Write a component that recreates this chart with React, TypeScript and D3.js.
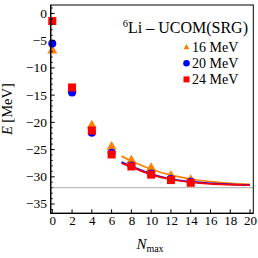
import React from 'react';
import * as d3 from 'd3';

// N_max values where the calculations were done
const nmax = [0, 2, 4, 6, 8, 10, 12, 14];

// ground-state energies [MeV]
const e16 = [-6.8, -14.0, -20.6, -24.5, -27.0, -28.4, -29.8, -30.6];
const e20 = [-5.5, -14.5, -21.9, -25.6, -27.9, -29.4, -30.4, -30.9];
const e24 = [-1.4, -13.6, -21.5, -25.9, -28.1, -29.6, -30.6, -31.1];

// extrapolation curves
const fitN = [7, 8, 10, 12, 14, 16, 18, 20];
const fit16 = [-26.2, -27.1, -28.6, -29.7, -30.4, -30.9, -31.2, -31.4];
const fit20 = [-27.3, -28.05, -29.5, -30.4, -30.9, -31.2, -31.4, -31.5];
const fit24 = [-27.5, -28.2, -29.6, -30.5, -31.0, -31.3, -31.45, -31.55];

const expE = -32.0;

const xTicks = [0, 2, 4, 6, 8, 10, 12, 14, 16, 18, 20];
const yTicks = [0, -5, -10, -15, -20, -25, -30, -35];
const legendLabels = ['16 MeV', '20 MeV', '24 MeV'];

const ORANGE = '#ff8000';
const BLUE = '#0000ff';
const RED = '#ff0000';

const W = 258;
const H = 258;
const left = 50.7, right = 253.3, top = 5, bottom = 213.3;
const serif = '"Liberation Serif", "DejaVu Serif", serif';

export default function App() {
  const x = d3.scaleLinear().domain([-0.16, 20.33]).range([left, right]);
  const y = d3.scaleLinear().domain([-36.7, 1.55]).range([bottom, top]);

  const line = d3.line<[number, number]>()
    .x(d => x(d[0]))
    .y(d => y(d[1]))
    .curve(d3.curveMonotoneX);

  const tri = d3.symbol(d3.symbolTriangle, 44)();
  const triSmall = d3.symbol(d3.symbolTriangle, 15)();

  const minorY = d3.range(-36, 2, 1).filter(v => v % 5 !== 0);

  const curves = [
    { vals: fit16, color: ORANGE },
    { vals: fit20, color: BLUE },
    { vals: fit24, color: RED },
  ];

  const legendColors = [ORANGE, BLUE, RED];

  return (
    <svg width={W} height={H} style={{ position: 'absolute', left: 0, top: 0, background: '#fff' }}
      fontFamily={serif}>
      {/* experimental value */}
      <line x1={left} x2={right} y1={y(expE)} y2={y(expE)} stroke="#bdbdbd" strokeWidth={1.2} />

      {/* extrapolation curves */}
      {curves.map((c, i) => (
        <path key={i} d={line(fitN.map((n, j) => [n, c.vals[j]]))!} fill="none"
          stroke={c.color} strokeWidth={1.7} />
      ))}

      {/* points */}
      {nmax.map((n, i) => (
        <path key={'t' + i} d={tri!} transform={`translate(${x(n)},${y(e16[i])})`} fill={ORANGE} />
      ))}
      {nmax.map((n, i) => (
        <circle key={'c' + i} cx={x(n)} cy={y(e20[i])} r={4} fill={BLUE} />
      ))}
      {nmax.map((n, i) => (
        <rect key={'s' + i} x={x(n) - 4} y={y(e24[i]) - 4} width={8} height={8} fill={RED} />
      ))}

      {/* frame */}
      <rect x={left} y={top} width={right - left} height={bottom - top} fill="none" stroke="#000" strokeWidth={1} />
      <line x1={left} x2={left} y1={top} y2={bottom + 0.5} stroke="#000" strokeWidth={1.3} />
      <line x1={left - 0.5} x2={right} y1={bottom} y2={bottom} stroke="#000" strokeWidth={1.3} />

      {/* y ticks */}
      {yTicks.map(v => (
        <g key={'y' + v}>
          <line x1={left} x2={left + 4} y1={y(v)} y2={y(v)} stroke="#000" strokeWidth={1} />
          <text x={47} y={y(v)} dy="0.33em" textAnchor="end" fontSize={13.5}>
            {v === 0 ? '0' : '\u2212' + Math.abs(v)}
          </text>
        </g>
      ))}
      {minorY.map(v => (
        <line key={'m' + v} x1={left} x2={left + 2.2} y1={y(v)} y2={y(v)} stroke="#000" strokeWidth={0.8} />
      ))}

      {/* x ticks */}
      {xTicks.map(v => (
        <g key={'x' + v}>
          <line x1={x(v)} x2={x(v)} y1={bottom} y2={bottom - 4} stroke="#000" strokeWidth={1} />
          <text x={x(v) + 0.5} y={224.5} textAnchor="middle" fontSize={13}>{v}</text>
        </g>
      ))}

      {/* axis labels */}
      <text transform={`translate(12,${(top + bottom) / 2}) rotate(-90)`} textAnchor="middle" fontSize={14.5}>
        <tspan fontStyle="italic">E</tspan> [MeV]
      </text>
      <text x={150} y={249} textAnchor="middle" fontSize={15}>
        <tspan fontStyle="italic">N</tspan>
        <tspan fontSize={10} dy={2.5}>max</tspan>
      </text>

      {/* title */}
      <text x={248} y={33} textAnchor="end" fontSize={16}>
        <tspan fontSize={10.5} dy={-6}>6</tspan>
        <tspan dy={6}>Li – UCOM(SRG)</tspan>
      </text>

      {/* legend */}
      {legendLabels.map((lab, i) => {
        const ly = 47 + i * 16.2;
        const c = legendColors[i];
        return (
          <g key={lab}>
            {i === 0 && <path d={triSmall!} transform={`translate(186.5,${ly + 0.5})`} fill={c} />}
            {i === 1 && <circle cx={186.5} cy={ly} r={3.3} fill={c} />}
            {i === 2 && <rect x={183.5} y={ly - 3} width={6} height={6} fill={c} />}
            <text x={192} y={ly} dy="0.33em" fontSize={14}>{lab}</text>
          </g>
        );
      })}
    </svg>
  );
}
